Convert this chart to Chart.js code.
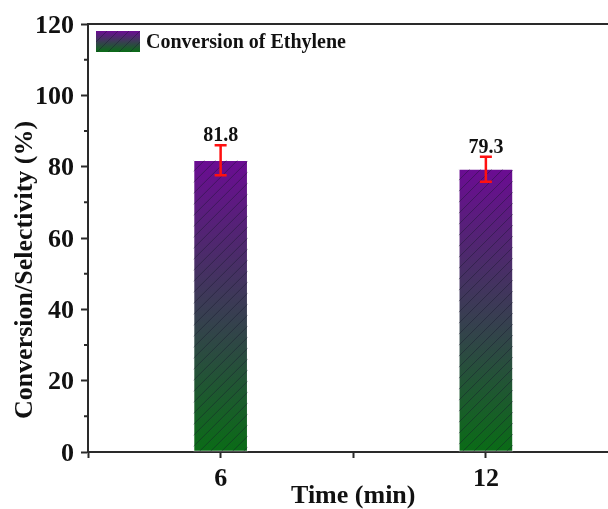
<!DOCTYPE html>
<html>
<head>
<title>Conversion of Ethylene</title>
<script src="https://cdn.jsdelivr.net/npm/chart.js@4.4.0/dist/chart.umd.min.js"></script>
<style>
  html, body { margin: 0; padding: 0; overflow: hidden; background: #fff; }
</style>
</head>
<body>

<canvas id="conversionChart" width="640" height="509"></canvas>

<script>
    // data
    var times = [6, 12];
    var conversion = [81.8, 79.3];
    var conversionErr = [4.2, 3.5];
    var xTickLabels = [6, 12];
    var yMinorTicks = [10, 30, 50, 70, 90, 110];
    var seriesLabel = 'Conversion of Ethylene';
    var yTitle = 'Conversion/Selectivity (%)';

    var serif = '"Liberation Serif", "Times New Roman", serif';
    var axisColor = '#2a2a2a';
    var textColor = '#111';
    var purple = '#6b0c93';
    var green = '#0a6c16';

    function barGradient(ctx, top, bottom) {
        var g = ctx.createLinearGradient(0, top, 0, bottom);
        g.addColorStop(0, purple);
        g.addColorStop(1, green);
        return g;
    }

    function hatch(ctx, left, top, w, h) {
        ctx.save();
        ctx.beginPath();
        ctx.rect(left, top, w, h);
        ctx.clip();
        ctx.strokeStyle = 'rgba(25, 25, 45, 0.42)';
        ctx.lineWidth = 1;
        ctx.beginPath();
        for (var s = -h; s < w + h; s += 11) {
            ctx.moveTo(left + s, top + h);
            ctx.lineTo(left + s + h, top);
        }
        ctx.stroke();
        ctx.restore();
    }

    // hatching, error bars, value labels, minor ticks, top frame, legend, y title
    var decorations = {
        id: 'decorations',
        afterDatasetsDraw: function(chart) {
            var ctx = chart.ctx;
            var xs = chart.scales.x, ys = chart.scales.y;
            chart.getDatasetMeta(0).data.forEach(function(bar) {
                hatch(ctx, bar.x - bar.width / 2, bar.y, bar.width, bar.base - bar.y);
            });
            ctx.save();
            ctx.strokeStyle = '#ff1010';
            ctx.lineWidth = 2.5;
            ctx.fillStyle = textColor;
            ctx.font = 'bold 20px ' + serif;
            ctx.textAlign = 'center';
            ctx.textBaseline = 'alphabetic';
            times.forEach(function(t, i) {
                var x = xs.getPixelForValue(t);
                var hi = ys.getPixelForValue(conversion[i] + conversionErr[i]);
                var lo = ys.getPixelForValue(conversion[i] - conversionErr[i]);
                ctx.beginPath();
                ctx.moveTo(x, hi); ctx.lineTo(x, lo);
                ctx.moveTo(x - 6, hi); ctx.lineTo(x + 6, hi);
                ctx.moveTo(x - 6, lo); ctx.lineTo(x + 6, lo);
                ctx.stroke();
                ctx.fillText(conversion[i].toFixed(1), x, hi - 4);
            });
            ctx.restore();
        },
        afterDraw: function(chart) {
            var ctx = chart.ctx;
            var area = chart.chartArea;
            var ys = chart.scales.y;
            ctx.save();
            ctx.strokeStyle = axisColor;
            ctx.lineWidth = 2;
            ctx.beginPath();
            ctx.moveTo(area.left - 1, area.top);
            ctx.lineTo(area.right, area.top);
            yMinorTicks.forEach(function(v) {
                var y = ys.getPixelForValue(v);
                ctx.moveTo(area.left - 4, y);
                ctx.lineTo(area.left, y);
            });
            ctx.stroke();

            // legend inside the plot, top left
            var lx = area.left + 8, ly = area.top + 7, bw = 44, bh = 21;
            ctx.fillStyle = barGradient(ctx, ly, ly + bh);
            ctx.fillRect(lx, ly, bw, bh);
            hatch(ctx, lx, ly, bw, bh);
            ctx.fillStyle = textColor;
            ctx.font = 'bold 20px ' + serif;
            ctx.textAlign = 'left';
            ctx.textBaseline = 'middle';
            ctx.fillText(seriesLabel, lx + bw + 6, ly + bh / 2 + 1);

            // y axis title, sits a little below the middle in the original
            ctx.translate(area.left - 63, (area.top + area.bottom) / 2 + 32);
            ctx.rotate(-Math.PI / 2);
            ctx.textAlign = 'center';
            ctx.font = 'bold 26px ' + serif;
            ctx.fillText(yTitle, 0, 0);
            ctx.restore();
        }
    };

    var ctx = document.getElementById('conversionChart').getContext('2d');
    var chart = new Chart(ctx, {
        type: 'bar',
        data: {
            datasets: [{
                label: seriesLabel,
                data: times.map(function(t, i) { return { x: t, y: conversion[i] }; }),
                backgroundColor: function(c) {
                    var ch = c.chart;
                    if (!ch.chartArea) return purple;
                    var ys = ch.scales.y;
                    return barGradient(ch.ctx, ys.getPixelForValue(c.raw.y), ys.getPixelForValue(0));
                },
                borderColor: 'rgba(255, 255, 255, 0.35)',
                borderWidth: 1,
                borderSkipped: false,
                barThickness: 54
            }]
        },
        options: {
            responsive: false,
            animation: false,
            layout: { padding: { top: 24, right: 21.5, left: 0, bottom: 0 } },
            scales: {
                x: {
                    type: 'linear',
                    min: 3,
                    max: 15,
                    offset: false,
                    afterFit: function(s) { s.height = 57; },
                    ticks: {
                        stepSize: 3,
                        color: textColor,
                        padding: 6,
                        font: { family: serif, size: 26, weight: 'bold' },
                        callback: function(v) { return xTickLabels.indexOf(v) >= 0 ? String(v) : ''; }
                    },
                    grid: { drawOnChartArea: false, offset: false, tickLength: 6, tickWidth: 2, tickColor: axisColor },
                    border: { color: axisColor, width: 2 },
                    title: {
                        display: true,
                        text: 'Time (min)',
                        color: textColor,
                        padding: { top: 0, bottom: 0 },
                        font: { family: serif, size: 26, weight: 'bold', lineHeight: 0.95 }
                    }
                },
                y: {
                    min: 0,
                    max: 120,
                    afterFit: function(s) { s.width = 88; },
                    ticks: {
                        stepSize: 20,
                        color: textColor,
                        padding: 7,
                        labelOffset: 2,
                        font: { family: serif, size: 26, weight: 'bold' }
                    },
                    grid: { drawOnChartArea: false, tickLength: 7, tickWidth: 2, tickColor: axisColor },
                    border: { color: axisColor, width: 2 }
                }
            },
            plugins: {
                legend: { display: false },
                tooltip: { enabled: false }
            }
        },
        plugins: [decorations]
    });
</script>
</body>
</html>
